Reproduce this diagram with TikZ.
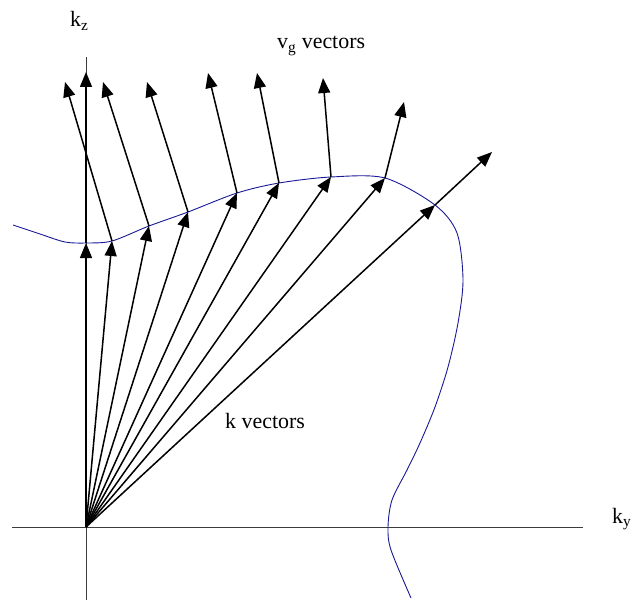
\documentclass[tikz,border=0pt]{standalone}
\usepackage{fontspec}
\setmainfont{Liberation Serif}
\usetikzlibrary{arrows.meta}
\definecolor{curveblue}{RGB}{25,25,150}
\definecolor{axisgray}{RGB}{60,60,60}
\begin{document}
\begin{tikzpicture}[x=1bp,y=-1bp,
  vec/.style={line width=1.5bp,-{Triangle[length=15bp,width=12bp]}},
  axisline/.style={line width=0.9bp,draw=axisgray},
  lbl/.style={inner sep=0pt,anchor=base west,font=\fontsize{22}{26}\selectfont}]
\useasboundingbox (0,0) rectangle (638,602);
% axes
\coordinate (xl) at (12,527);
\coordinate (xr) at (583,527);
\coordinate (yt) at (86,57);
\coordinate (yb) at (86,600);
\draw[axisline] (xl) -- (xr);
\draw[axisline] (yb) -- (yt);
\coordinate (O) at (86,527);
% curve points
\coordinate (P1) at (86,243);
\coordinate (P2) at (112,241);
\coordinate (P3) at (149,226);
\coordinate (P4) at (188,212);
\coordinate (P5) at (237,193);
\coordinate (P6) at (279,183);
\coordinate (P7) at (331,177);
\coordinate (P8) at (385,178);
\coordinate (P9) at (435,205);
% curve
\draw[curveblue,line width=0.9bp] plot[smooth,tension=0.5] coordinates {
 (13,225) (40,234) (65,242) (86,243) (112,241) (149,226) (188,212) (237,193)
 (279,183) (331,177) (385,178) (435,205) (457,233) (463,280)
 (458,323) (448,367) (435,407) (420,443) (407,470) (392,500) (388,527)
 (391,550) (411,598)};
% group velocity tips
\coordinate (V1) at (86,72);
\coordinate (V2) at (65,82);
\coordinate (V3) at (103,82);
\coordinate (V4) at (147,82);
\coordinate (V5) at (208,73);
\coordinate (V6) at (257,73);
\coordinate (V7) at (323,78);
\coordinate (V8) at (404,102);
\coordinate (V9) at (492,152);
% k vectors
\foreach \i in {1,...,9} {\draw[vec] (O) -- (P\i);}
% vg vectors
\foreach \i in {1,...,9} {\draw[vec] (P\i) -- (V\i);}
% labels
\node[lbl] (kz) at (70,27) {k\textsubscript{z}};
\node[lbl] (ky) at (612,523) {k\textsubscript{y}};
\node[lbl] (vg) at (277,49) {v\textsubscript{g} vectors};
\node[lbl] (kv) at (225,428) {k vectors};
\end{tikzpicture}
\end{document}
